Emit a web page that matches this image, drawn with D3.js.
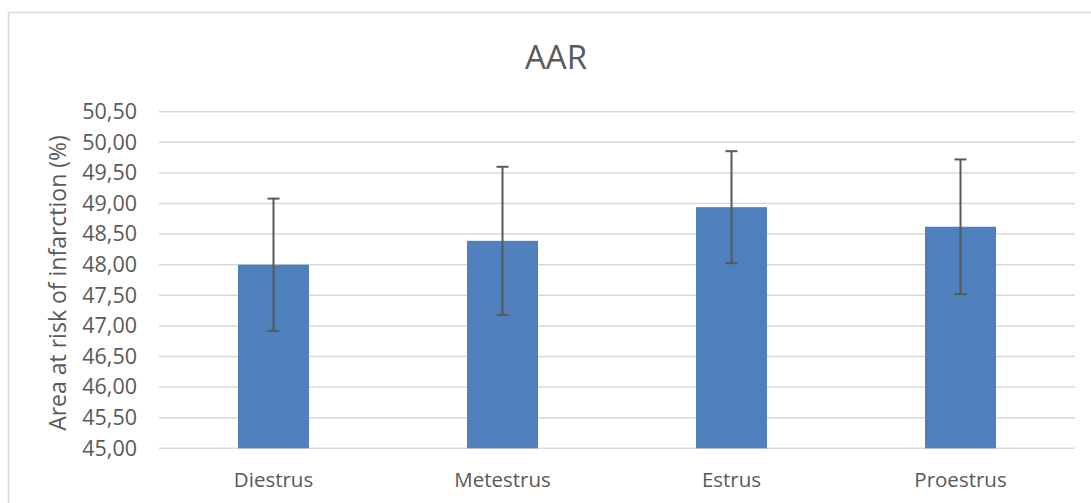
<!DOCTYPE html>
<html>
<head>
<meta charset="utf-8">
<script src="https://cdn.jsdelivr.net/npm/d3@7"></script>
<style>
  html, body { margin: 0; padding: 0; background: #ffffff; }
  svg { display: block; }
  text { font-family: "Open Sans", "Noto Sans", sans-serif; fill: #595959; }
</style>
</head>
<body>
<svg id="chart" width="1091" height="503"></svg>
<script>
const categories = ["Diestrus", "Metestrus", "Estrus", "Proestrus"];
const values = [48.00, 48.39, 48.94, 48.62];
const errors = [1.08, 1.21, 0.915, 1.10];
const yTicks = [45.0, 45.5, 46.0, 46.5, 47.0, 47.5, 48.0, 48.5, 49.0, 49.5, 50.0, 50.5];
const title = "AAR";
const yTitle = "Area at risk of infarction (%)";

const svg = d3.select("#chart");
const W = 1091, H = 503;

// chart frame
svg.append("rect")
  .attr("x", 8.5).attr("y", 12.5)
  .attr("width", W + 10).attr("height", H + 10)
  .attr("fill", "#ffffff")
  .attr("stroke", "#d9d9d9").attr("stroke-width", 1.5);

const plot = { left: 159, right: 1075, top: 111.7, bottom: 448.3 };

const x = d3.scaleBand()
  .domain(categories)
  .range([plot.left, plot.right])
  .paddingInner(0.69).paddingOuter(0.345);

const y = d3.scaleLinear()
  .domain([45, 50.5])
  .range([plot.bottom, plot.top]);

// gridlines
svg.append("g")
  .selectAll("line")
  .data(yTicks)
  .join("line")
  .attr("x1", plot.left).attr("x2", plot.right)
  .attr("y1", d => y(d)).attr("y2", d => y(d))
  .attr("stroke", "#d9d9d9").attr("stroke-width", 1.5);

// y axis labels
const fmt = d => d.toFixed(2).replace(".", ",");
const yAxis = d3.axisLeft(y).tickValues(yTicks).tickFormat(fmt).tickSize(0).tickPadding(0);
const gy = svg.append("g").attr("transform", `translate(${137},0)`).call(yAxis);
gy.select(".domain").remove();
gy.selectAll("text")
  .style("font-family", '"Open Sans", sans-serif')
  .style("font-size", "21.5px")
  .attr("fill", "#595959");

// x axis labels
const xAxis = d3.axisBottom(x).tickSize(0).tickPadding(0);
const gx = svg.append("g").attr("transform", `translate(0,${472})`).call(xAxis);
gx.select(".domain").remove();
gx.selectAll("text")
  .style("font-family", '"Open Sans", sans-serif')
  .style("font-size", "20.5px")
  .attr("fill", "#595959");

// bars
svg.append("g")
  .selectAll("rect")
  .data(categories)
  .join("rect")
  .attr("x", d => x(d))
  .attr("width", x.bandwidth())
  .attr("y", (d, i) => y(values[i]))
  .attr("height", (d, i) => y(45) - y(values[i]))
  .attr("fill", "#4f7fbc");

// error bars
const eg = svg.append("g").attr("stroke", "#595959").attr("stroke-width", 2);
categories.forEach((c, i) => {
  const cx = x(c) + x.bandwidth() / 2;
  const top = y(values[i] + errors[i]);
  const bot = y(values[i] - errors[i]);
  eg.append("line").attr("x1", cx).attr("x2", cx).attr("y1", top).attr("y2", bot);
  eg.append("line").attr("x1", cx - 6).attr("x2", cx + 6).attr("y1", top).attr("y2", top);
  eg.append("line").attr("x1", cx - 6).attr("x2", cx + 6).attr("y1", bot).attr("y2", bot);
});

// title
svg.append("text")
  .attr("x", 556).attr("y", 69)
  .attr("text-anchor", "middle")
  .style("font-size", "33px")
  .text(title);

// y axis title
svg.append("text")
  .attr("transform", `translate(66,${283}) rotate(-90)`)
  .attr("text-anchor", "middle")
  .style("font-size", "23px")
  .text(yTitle);
</script>
</body>
</html>
